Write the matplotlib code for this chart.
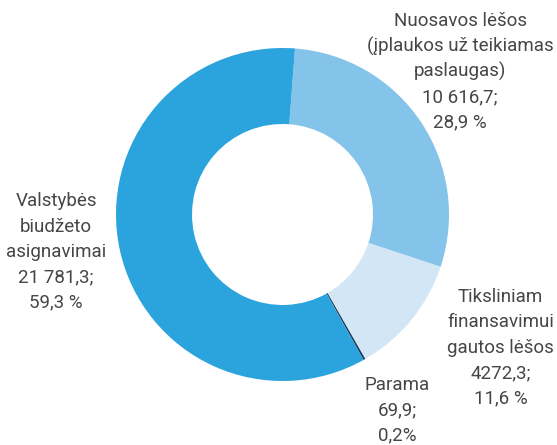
import matplotlib.pyplot as plt

# duomenys
vardai = [["Nuosavos lėšos", "(įplaukos už teikiamas", "paslaugas)"],
          ["Tiksliniam", "finansavimui", "gautos lėšos"],
          ["Parama"],
          ["Valstybės", "biudžeto", "asignavimai"]]
reiksmes = [10616.7, 4272.3, 69.9, 21781.3]
reiksmes_txt = ["10 616,7;", "4272,3;", "69,9;", "21 781,3;"]
procentai = ["28,9 %", "11,6 %", "0,2%", "59,3 %"]
spalvos = ["#85c4ea", "#d2e6f6", "#1d3a5a", "#2ba4dd"]

W, H = 557, 445
fig = plt.figure(figsize=(W / 100, H / 100), dpi=100)
ax = fig.add_axes([0, 0, 1, 1])

# pixeliai nuo virsaus -> y nuo apacios
cx, cy = 282.5, H - 214.5
R = 166.5
ax.pie(reiksmes, colors=spalvos, startangle=85.7, counterclock=False,
       center=(cx, cy), radius=R, wedgeprops=dict(width=R - 90.5, linewidth=0),
       frame=True)
ax.set_xlim(0, W)
ax.set_ylim(0, H)
ax.set_aspect("equal")
ax.axis("off")

# etikeciu vietos (centras x, pirmos eilutes baseline nuo virsaus)
vietos = [(460, 26.5), (500.5, 302), (397, 390), (56, 206.5)]
zingsnis = 25.3
for v, r, p, (x, y) in zip(vardai, reiksmes_txt, procentai, vietos):
    eilutes = v + [r, p]
    for i, e in enumerate(eilutes):
        ax.text(x, H - (y + i * zingsnis), e, ha="center", va="baseline",
                fontsize=13.5, family="Roboto", color="#464646")

fig.savefig("out.png", dpi=100)
